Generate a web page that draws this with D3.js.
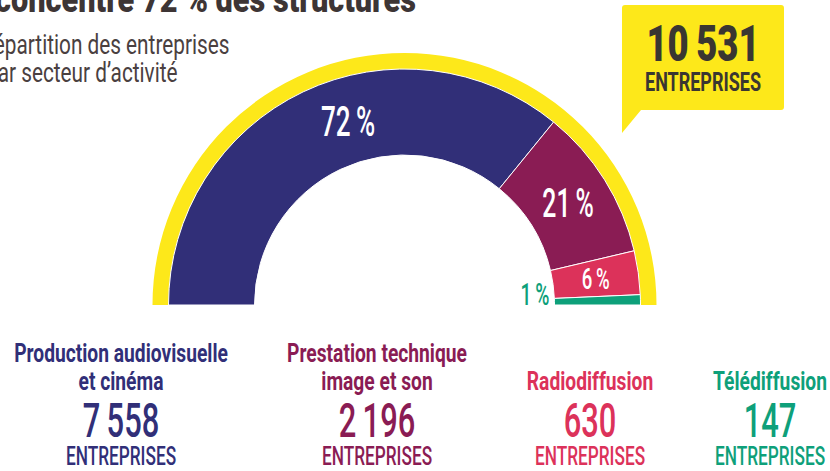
<!DOCTYPE html>
<html>
<head>
<meta charset="utf-8">
<script src="https://cdn.jsdelivr.net/npm/d3@7"></script>
<style>
  html, body { margin: 0; padding: 0; background: #fff; overflow: hidden; }
  svg text { font-family: "Roboto", "Liberation Sans", sans-serif; }
</style>
</head>
<body>
<div id="chart"></div>
<script>
// Data
const sectors = ["Production audiovisuelle|et cinéma", "Prestation technique|image et son", "Radiodiffusion", "Télédiffusion"];
const counts = [7558, 2196, 630, 147];
const colors = ["#312f78", "#8a1c54", "#dc325a", "#0ea07a"];
const total = 10531;

const width = 830, height = 471;
const cx = 404.5, cy = 305;
const rInner = 150, rOuter = 236, rRing = 252;

const svg = d3.select("#chart")
  .append("svg")
  .attr("width", width)
  .attr("height", height);

const fmt = d3.formatLocale({ decimal: ",", thousands: "\u2009", grouping: [3] }).format(",d");

// condensed text: the original uses a narrow typeface, so squeeze horizontally
function ctext(parent, x, y, txt, size, weight, sx, anchor) {
  return parent.append("text")
    .attr("transform", `translate(${x},${y}) scale(${sx},1)`)
    .attr("text-anchor", anchor || "middle")
    .style("font-size", size + "px")
    .style("font-weight", weight)
    .text(txt);
}

// Title (cut off at the top)
ctext(svg, -5, 12, "concentre 72 % des structures", 37, 900, 0.83, "start").attr("fill", "#3d3535");
ctext(svg, -19, 54, "Répartition des entreprises", 27, 400, 0.77, "start").attr("fill", "#4a4040");
ctext(svg, -14, 82, "par secteur d’activité", 27, 400, 0.77, "start").attr("fill", "#4a4040");

const g = svg.append("g").attr("transform", `translate(${cx},${cy})`);

// Yellow outer ring
g.append("path")
  .attr("d", d3.arc()({ innerRadius: rOuter - 6, outerRadius: rRing, startAngle: -Math.PI / 2, endAngle: Math.PI / 2 }))
  .attr("fill", "#fde81a");

const pie = d3.pie()
  .sort(null)
  .startAngle(-Math.PI / 2)
  .endAngle(Math.PI / 2);

const arcs = pie(counts);
const arc = d3.arc().innerRadius(rInner).outerRadius(rOuter);

g.selectAll("path.slice")
  .data(arcs)
  .enter()
  .append("path")
  .attr("class", "slice")
  .attr("d", arc)
  .attr("fill", (d, i) => colors[i])
  .attr("stroke", "#fff")
  .attr("stroke-width", 1);

// Percentage labels
const labelAt = [0.565, 0.5, 0.5, 0.5];
const labelSize = [42, 40, 30, 31];
const rLabel = 193;
arcs.forEach((d, i) => {
  const pct = Math.round(d.data / total * 100) + "\u2009%";
  const a = d.startAngle + (d.endAngle - d.startAngle) * labelAt[i];
  let x = rLabel * Math.sin(a), y = -rLabel * Math.cos(a) + labelSize[i] * 0.36;
  let fill = "#fff";
  if (i === 3) { x = 130.5; y = 0; fill = colors[3]; }
  ctext(g, x, y, pct, labelSize[i], 500, 0.62).attr("fill", fill);
});

// Callout
const callout = svg.append("g").attr("fill", "#3a3631");
callout.append("path")
  .attr("d", "M625,5 H781 Q784,5 784,8 V107 Q784,110 781,110 H641 L622,133 V8 Q622,5 625,5 Z")
  .attr("fill", "#fde81a");
ctext(callout, 703, 61, fmt(total), 50, 900, 0.73);
ctext(callout, 703, 91, "ENTREPRISES", 25, 700, 0.72);

// Bottom legend
const colX = [121, 377, 590, 770];
sectors.forEach((s, i) => {
  const lines = s.split("|");
  const col = svg.append("g").attr("fill", colors[i]);
  const yTop = lines.length === 2 ? 362 : 390;
  lines.forEach((l, j) => {
    ctext(col, colX[i], yTop + j * 28, l, 26, 700, 0.74);
  });
  ctext(col, colX[i], 437, fmt(counts[i]), 49, 500, 0.63);
  ctext(col, colX[i], 465, "ENTREPRISES", 25, 500, 0.69);
});
</script>
</body>
</html>
